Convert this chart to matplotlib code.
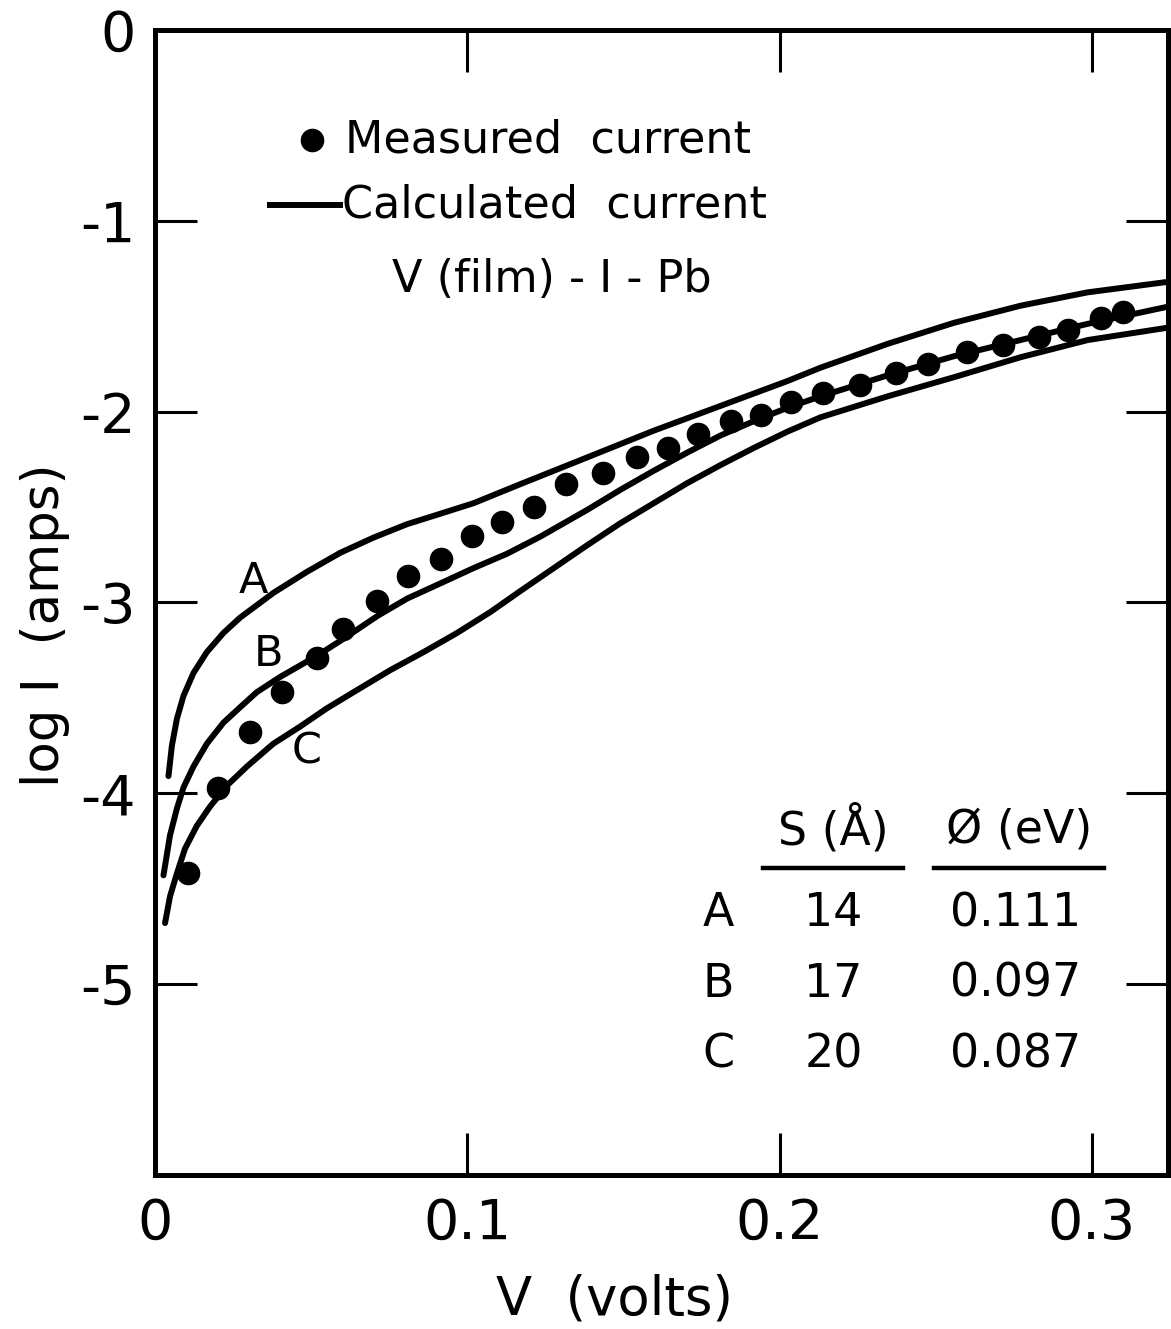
import numpy as np
import matplotlib.pyplot as plt

plt.rcParams['font.family'] = 'DejaVu Sans'

# measured log current vs bias (V(film)-I-Pb junction)
meas_v = [0.0106, 0.0202, 0.0305, 0.0407, 0.0519, 0.0603, 0.0712, 0.0811,
          0.0917, 0.1016, 0.1112, 0.1212, 0.1317, 0.1436, 0.1542, 0.1644,
          0.1740, 0.1843, 0.1939, 0.2035, 0.2138, 0.2256, 0.2372, 0.2474,
          0.2599, 0.2714, 0.2830, 0.2923, 0.3029, 0.3099]
meas_logi = [-4.42, -3.97, -3.68, -3.47, -3.29, -3.14, -2.99, -2.86,
             -2.77, -2.65, -2.58, -2.50, -2.38, -2.32, -2.24, -2.19,
             -2.12, -2.05, -2.02, -1.95, -1.90, -1.86, -1.80, -1.75,
             -1.69, -1.65, -1.61, -1.57, -1.51, -1.48]

# calculated curves, A: S=14 A, B: S=17 A, C: S=20 A
a_v = [0.0043, 0.0054, 0.0070, 0.0091, 0.0123, 0.0166, 0.0219, 0.0272,
       0.0379, 0.0486, 0.0593, 0.0700, 0.0807, 0.0914, 0.1020, 0.1170,
       0.1384, 0.1597, 0.1811, 0.2025, 0.2131, 0.2346, 0.2558, 0.2772,
       0.2987, 0.3244]
a_logi = [-3.91, -3.75, -3.61, -3.49, -3.37, -3.26, -3.16, -3.08,
          -2.95, -2.84, -2.74, -2.66, -2.59, -2.535, -2.48, -2.38,
          -2.24, -2.10, -1.97, -1.84, -1.77, -1.645, -1.535, -1.445,
          -1.375, -1.32]

b_v = [0.0027, 0.0048, 0.0070, 0.0091, 0.0123, 0.0166, 0.0219, 0.0272,
       0.0326, 0.0401, 0.0518, 0.0604, 0.0713, 0.0807, 0.0914, 0.1020,
       0.1127, 0.1234, 0.1384, 0.1490, 0.1597, 0.1704, 0.1811, 0.1918,
       0.2025, 0.2131, 0.2346, 0.2558, 0.2772, 0.2987, 0.3244]
b_logi = [-4.43, -4.22, -4.08, -3.97, -3.86, -3.74, -3.63, -3.55,
          -3.47, -3.39, -3.28, -3.19, -3.07, -2.98, -2.90, -2.82,
          -2.745, -2.655, -2.515, -2.41, -2.31, -2.215, -2.125, -2.05,
          -1.98, -1.92, -1.81, -1.71, -1.625, -1.54, -1.45]

c_v = [0.0032, 0.0048, 0.0070, 0.0096, 0.0134, 0.0176, 0.0230, 0.0294,
       0.0379, 0.0465, 0.0550, 0.0646, 0.0753, 0.0860, 0.0967, 0.1074,
       0.1170, 0.1277, 0.1384, 0.1490, 0.1597, 0.1704, 0.1811, 0.1918,
       0.2025, 0.2131, 0.2346, 0.2558, 0.2772, 0.2987, 0.3244]
c_logi = [-4.68, -4.54, -4.42, -4.29, -4.17, -4.07, -3.96, -3.86,
          -3.74, -3.65, -3.555, -3.46, -3.355, -3.26, -3.16, -3.05,
          -2.94, -2.82, -2.70, -2.585, -2.48, -2.375, -2.28, -2.19,
          -2.105, -2.03, -1.92, -1.82, -1.715, -1.625, -1.56]

curve_names = ['A', 'B', 'C']
spacing = ['14', '17', '20']
barrier = ['0.111', '0.097', '0.087']

xticks = [0, 0.1, 0.2, 0.3]
xticklabels = ['0', '0.1', '0.2', '0.3']
yticks = [0, -1, -2, -3, -4, -5]
yticklabels = ['0', '-1', '-2', '-3', '-4', '-5']

fig = plt.figure(figsize=(11.71, 13.29), dpi=100)
ax = fig.add_axes([0.1324, 0.1159, 0.8651, 0.8616])

lw = 4.3
for v, l in [(a_v, a_logi), (b_v, b_logi), (c_v, c_logi)]:
    ax.plot(v, l, 'k-', lw=lw, solid_capstyle='round', solid_joinstyle='round')
ax.plot(meas_v, meas_logi, 'ko', ms=16)

ax.set_xlim(0, 0.3244)
ax.set_ylim(-6, 0)
ax.set_xticks(xticks)
ax.set_xticklabels(xticklabels)
ax.set_yticks(yticks)
ax.set_yticklabels(yticklabels)
ax.tick_params(direction='in', length=30, width=2.2, top=True, right=True,
               labelsize=40)
ax.tick_params(axis='x', pad=16)
ax.tick_params(axis='y', pad=14)
for s in ax.spines.values():
    s.set_linewidth(3.6)

ax.set_xlabel('V  (volts)', fontsize=38, va='center')
ax.xaxis.set_label_coords(0.454, -0.109)
ax.set_ylabel('log I  (amps)', fontsize=37, va='center')
ax.yaxis.set_label_coords(-0.109, 0.48)

# key in the upper left
ax.plot([0.155], [0.904], 'ko', ms=16, transform=ax.transAxes)
ax.text(0.1876, 0.904, 'Measured  current', fontsize=32, va='center',
        transform=ax.transAxes)
ax.plot([0.1135, 0.1826], [0.847, 0.847], 'k-', lw=lw, transform=ax.transAxes)
ax.text(0.1846, 0.847, 'Calculated  current', fontsize=32, va='center',
        transform=ax.transAxes)
ax.text(0.392, 0.782, 'V (film) - I - Pb', fontsize=32, ha='center', va='center',
        transform=ax.transAxes)

# curve labels
lab_xy = [(0.0314, -2.89), (0.0362, -3.27), (0.0487, -3.78)]
for name, (x, y) in zip(curve_names, lab_xy):
    ax.text(x, y, name, fontsize=31, ha='center', va='center')

# parameter table
ax.text(0.2173, -4.19, 'S (Å)', fontsize=33, ha='center', va='center')
ax.text(0.2766, -4.19, 'Ø (eV)', fontsize=33, ha='center', va='center')
ax.plot([0.1946, 0.2394], [-4.39, -4.39], 'k-', lw=3.2)
ax.plot([0.2494, 0.3038], [-4.39, -4.39], 'k-', lw=3.2)
row_y = [-4.63, -5.0, -5.37]
for name, s, phi, y in zip(curve_names, spacing, barrier, row_y):
    ax.text(0.1804, y, name, fontsize=33, ha='center', va='center')
    ax.text(0.2173, y, s, fontsize=33, ha='center', va='center')
    ax.text(0.2756, y, phi, fontsize=33, ha='center', va='center')

fig.savefig('out.png', dpi=100)
